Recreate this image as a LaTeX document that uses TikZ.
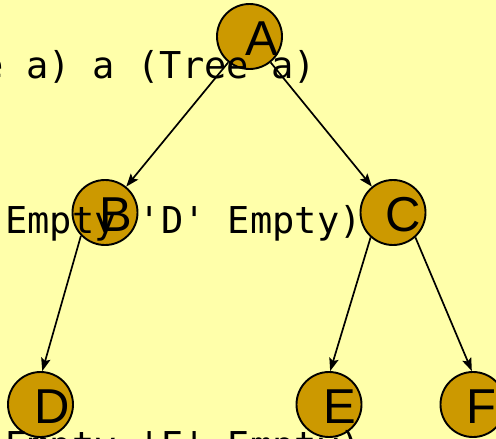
\documentclass[tikz,border=0pt]{standalone}
\usepackage{fontspec}
\setmonofont{DejaVu Sans Mono}
\newfontfamily\lettfont{Liberation Sans}
\usetikzlibrary{arrows.meta}
\definecolor{bgyellow}{HTML}{FFFFAA}
\definecolor{nodegold}{HTML}{CC9900}
\begin{document}
\begin{tikzpicture}[x=1pt,y=-1pt,
  vert/.style={circle,draw=black,line width=1.9pt,fill=nodegold,minimum size=65pt,inner sep=0pt},
  lett/.style={anchor=base west,inner sep=0pt,font=\lettfont\fontsize{49}{49}\selectfont},
  code/.style={anchor=base west,inner sep=0pt,font=\ttfamily\fontsize{37}{37}\selectfont},
  edgearrow/.style={line width=1.7pt,-{Stealth[length=13pt,width=9.5pt,inset=2.5pt]}}]
\useasboundingbox (0,0) rectangle (496,439);
\clip (0,0) rectangle (496,439);
\fill[bgyellow] (0,0) rectangle (496,439);
\node[vert] (A) at (249.5,36.5) {};
\node[vert] (B) at (105,212.5) {};
\node[vert] (C) at (393,212.5) {};
\node[vert] (D) at (40.5,404.5) {};
\node[vert] (E) at (329,404.5) {};
\node[vert] (F) at (473,404.5) {};
\draw[edgearrow] (A) -- (B);
\draw[edgearrow] (A) -- (C);
\draw[edgearrow] (B.224) -- (D.87);
\draw[edgearrow] (C.228) -- (E.88);
\draw[edgearrow] (C.312) -- (F.92);
\node[code] (t1) at (-18.6,78) {e a) a (Tree a)};
\node[code] (t2) at (5,233) {Empty 'D' Empty)};
\node[code] (t3) at (5,458.7) {Empty 'E' Empty)};
\node[lett] (lA) at ([shift={(-4.5,18.5)}]A.center) {A};
\node[lett] (lB) at ([shift={(-6,18.5)}]B.center) {B};
\node[lett] (lC) at ([shift={(-7.5,18.5)}]C.center) {C};
\node[lett] (lD) at ([shift={(-6.5,18.5)}]D.center) {D};
\node[lett] (lE) at ([shift={(-6,18.5)}]E.center) {E};
\node[lett] (lF) at ([shift={(-7,18.5)}]F.center) {F};
\end{tikzpicture}
\end{document}
